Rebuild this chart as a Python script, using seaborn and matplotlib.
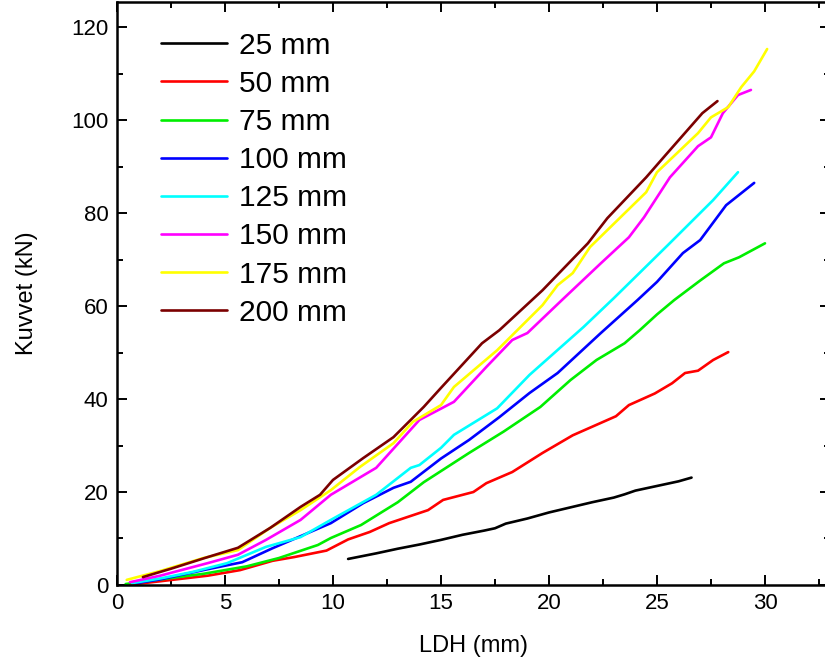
import pandas as pd
import seaborn as sns
import matplotlib
matplotlib.use("Agg")
import matplotlib.pyplot as plt
from matplotlib.ticker import MultipleLocator

# values
x_25 = [10.7, 12, 13, 14, 15, 16, 17, 17.5, 18, 19, 20, 21, 22, 23, 23.5, 24, 25, 26, 26.6]
y_25 = [5.6, 6.8, 7.8, 8.7, 9.7, 10.8, 11.7, 12.2, 13.2, 14.3, 15.6, 16.7, 17.8, 18.8, 19.5, 20.3, 21.3, 22.3, 23.1]

x_50 = [0.5, 2, 4.2, 5.7, 7.2, 8.2, 9.7, 10.7, 11.7, 12.6, 14.4, 15.1, 16.5, 17.1, 18.3, 19.7, 21.1,
        23.1, 23.7, 24.9, 25.7, 26.3, 26.9, 27.6, 28.3]
y_50 = [0, 0.8, 2, 3.2, 5.2, 6, 7.4, 9.8, 11.4, 13.3, 16.1, 18.3, 20, 21.9, 24.3, 28.4, 32.2,
        36.3, 38.7, 41.2, 43.4, 45.6, 46.1, 48.4, 50.1]

x_75 = [0.4, 2, 4, 6, 7.5, 9.3, 9.9, 11.3, 12.2, 13, 14.2, 16.3, 17.9, 19.6, 21, 22.2, 23.5, 24.2,
        25, 25.8, 27, 28.1, 28.8, 30]
y_75 = [0.2, 1.2, 2.4, 4, 5.8, 8.6, 10.1, 12.9, 15.5, 17.8, 22.1, 28.4, 33, 38.3, 44.1, 48.4, 52, 54.8,
        58.2, 61.3, 65.5, 69.2, 70.5, 73.5]

x_100 = [0.9, 2, 4, 5.8, 7.2, 8.5, 9.9, 11.4, 12.8, 13.6, 15, 16.3, 17.7, 19.1, 20.4, 22.4, 24.1,
         25, 26.2, 27, 28.2, 29.5]
y_100 = [0.4, 1.2, 3.2, 4.9, 7.9, 10.5, 13.3, 17.6, 20.9, 22.2, 27.2, 31.2, 36.1, 41.3, 45.6, 54.2, 61.3,
         65.2, 71.4, 74.2, 81.7, 86.5]

x_125 = [0.7, 2, 3.5, 5.1, 6.9, 8.5, 9.9, 12, 13.6, 14, 15, 15.6, 17.6, 19.1, 21.6, 23, 25.5, 27.6, 28.75]
y_125 = [0.4, 1.4, 2.8, 4.7, 8.2, 10.3, 14, 19.4, 25.2, 25.8, 29.5, 32.3, 38, 45.2, 55.5, 61.7, 73.1, 82.8, 88.8]

x_150 = [0.6, 2, 4.2, 5.6, 6.9, 8.5, 9.9, 11.6, 12, 14, 15.6, 17.1, 18.3, 19, 20.6, 22.4, 23.7, 24.4,
         25.6, 26.9, 27.5, 28.05, 28.75, 29.35]
y_150 = [0.6, 2, 4.7, 6.5, 9.7, 14, 19.4, 24.1, 25.2, 35.5, 39.4, 46.9, 52.7, 54.2, 61.3, 69.2, 74.8, 79.1,
         87.7, 94.4, 96.3, 101.5, 105.4, 106.5]

x_175 = [0.45, 2, 4, 5.6, 7.1, 8.5, 9.9, 11.25, 12.8, 13.7, 15, 15.6, 17.6, 19.7, 20.4, 21.1, 21.9,
         24.5, 25, 26.9, 27.5, 28.3, 28.9, 29.5, 30.1]
y_175 = [1.1, 3, 5.8, 7.5, 12.3, 16.1, 20.4, 25.4, 30.5, 35.1, 38.7, 42.6, 50.5, 60.2, 64.5, 67.1, 72.7,
         84.5, 88.8, 97.2, 100.6, 102.8, 107.1, 110.5, 115.3]

x_200 = [1.2, 2.5, 4.2, 5.6, 7.1, 8.5, 9.4, 10, 11.4, 12.8, 14.2, 15, 16.9, 17.7, 19.7, 21.8, 22.7,
         24.5, 25.4, 27.1, 27.8]
y_200 = [1.7, 3.5, 6, 8, 12.3, 16.8, 19.4, 22.6, 27.3, 31.8, 38.3, 42.4, 52, 54.8, 63.4, 73.5, 78.9,
         87.7, 92.5, 101.5, 104.1]

labels = ["25 mm", "50 mm", "75 mm", "100 mm", "125 mm", "150 mm", "175 mm", "200 mm"]
renkler = ["#000000", "#FF0000", "#00EE00", "#0000FF", "#00FFFF", "#FF00FF", "#FFFF00", "#7B0000"]

seriler = [(x_25, y_25), (x_50, y_50), (x_75, y_75), (x_100, y_100),
           (x_125, y_125), (x_150, y_150), (x_175, y_175), (x_200, y_200)]

parcalar = []
for lab, (xs, ys) in zip(labels, seriler):
    parcalar.append(pd.DataFrame({"LDH": xs, "Kuvvet": ys, "seri": lab}))
df = pd.concat(parcalar, ignore_index=True)

sns.set_style("ticks")
plt.rcParams["font.family"] = ["Liberation Sans", "DejaVu Sans"]
plt.rcParams["text.color"] = "black"
plt.rcParams["axes.labelcolor"] = "black"

fig = plt.figure(figsize=(8.25, 6.7), dpi=100)
ax = fig.add_axes([0.1418, 0.1269, 0.864, 0.870])

sns.lineplot(data=df, x="LDH", y="Kuvvet", hue="seri", hue_order=labels,
             palette=renkler, sort=False, estimator=None, linewidth=1.9, ax=ax)

ax.set_xlim(0, 33)
ax.set_ylim(0, 125.4)
ax.xaxis.set_major_locator(MultipleLocator(5))
ax.xaxis.set_minor_locator(MultipleLocator(2.5))
ax.yaxis.set_major_locator(MultipleLocator(20))
ax.yaxis.set_minor_locator(MultipleLocator(10))
ax.tick_params(which="both", direction="in", top=True, right=True, width=1.4,
               labelsize=16, colors="black", pad=6)
ax.tick_params(which="major", length=7)
ax.tick_params(which="minor", length=4)
for s in ax.spines.values():
    s.set_linewidth(1.8)
    s.set_color("black")

ax.set_xlabel("LDH (mm)", fontsize=17, labelpad=15)
ax.set_ylabel("Kuvvet (kN)", fontsize=17, labelpad=24)

ax.legend(loc="upper left", frameon=False, fontsize=21.5, handlelength=2.2,
          labelspacing=0.34, handletextpad=0.4, borderaxespad=0.3,
          bbox_to_anchor=(0.033, 0.985))

fig.savefig("out.png", dpi=100)
